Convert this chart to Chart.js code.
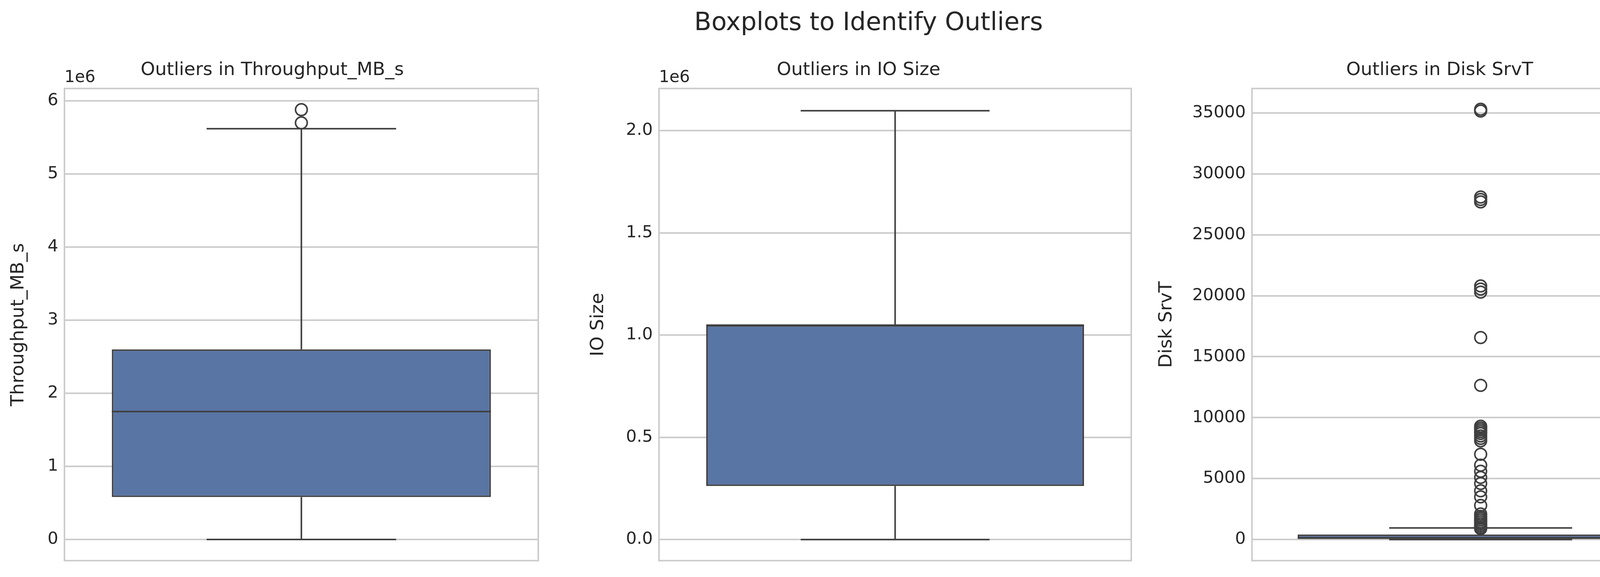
<!DOCTYPE html>
<html>
<head>
<meta charset="utf-8">
<script src="https://cdn.jsdelivr.net/npm/chart.js@4.4.1/dist/chart.umd.min.js"></script>
<style>
  body { margin:0; background:#fff; width:4447px; height:1476px; position:relative; overflow:hidden; font-family:"DejaVu Sans"; }
  #title { position:absolute; left:0; width:4447px; top:18px; text-align:center; font-size:64px; color:#262626; }
  canvas { position:absolute; }
</style>
</head>
<body>
<div id="title">Boxplots to Identify Outliers</div>
<canvas id="c1" width="1400" height="1360" style="left:16px;top:116px"></canvas>
<canvas id="c2" width="1420" height="1360" style="left:1500px;top:116px"></canvas>
<canvas id="c3" width="1440" height="1360" style="left:2955px;top:116px"></canvas>
<script>
// summary stats: [whiskerLow, q1, median, q3, whiskerHigh]
var titles = ['Outliers in Throughput_MB_s', 'Outliers in IO Size', 'Outliers in Disk SrvT'];
var ylabels = ['Throughput_MB_s', 'IO Size', 'Disk SrvT'];
var throughputStats = [0, 580000, 1750000, 2600000, 5620000];
var ioSizeStats = [0, 262144, 1048576, 1048576, 2097152];
var srvtStats = [0, 50, 150, 420, 950];
var throughputOutliers = [5700000, 5880000];
var ioSizeOutliers = [];
var srvtOutliers = [35300, 35150, 28100, 27900, 27700, 20800, 20550, 20300, 16570, 12650,
  9300, 9150, 9000, 8850, 8700, 8500, 8300, 8100, 7000, 6100, 5600, 5100, 4600, 4000, 3500, 2800,
  2100, 1900, 1750, 1600, 1450, 1300, 1150, 1000, 900];
var yRanges = [[-290000, 6170000], [-103000, 2206000], [-1730, 37000]];
var yTicks = [[0, 1000000, 2000000, 3000000, 4000000, 5000000, 6000000],
  [0, 500000, 1000000, 1500000, 2000000],
  [0, 5000, 10000, 15000, 20000, 25000, 30000, 35000]];
var offsetText = ['1e6', '1e6', ''];

var allStats = [throughputStats, ioSizeStats, srvtStats];
var allOutliers = [throughputOutliers, ioSizeOutliers, srvtOutliers];
var ink = '#3f3f3f';
var txt = '#262626';

var boxPlugin = {
  id: 'boxParts',
  afterDatasetsDraw: function(chart) {
    var s = chart.options.plugins.boxParts.stats;
    var y = chart.scales.y;
    var meta = chart.getDatasetMeta(0).data[0];
    var cx = meta.x, half = meta.width / 2;
    var ctx = chart.ctx;
    ctx.save();
    ctx.strokeStyle = ink;
    ctx.lineWidth = 4;
    ctx.beginPath();
    ctx.moveTo(cx, y.getPixelForValue(s[0])); ctx.lineTo(cx, y.getPixelForValue(s[1]));
    ctx.moveTo(cx, y.getPixelForValue(s[3])); ctx.lineTo(cx, y.getPixelForValue(s[4]));
    ctx.moveTo(cx - half / 2, y.getPixelForValue(s[0])); ctx.lineTo(cx + half / 2, y.getPixelForValue(s[0]));
    ctx.moveTo(cx - half / 2, y.getPixelForValue(s[4])); ctx.lineTo(cx + half / 2, y.getPixelForValue(s[4]));
    ctx.moveTo(cx - half, y.getPixelForValue(s[2])); ctx.lineTo(cx + half, y.getPixelForValue(s[2]));
    ctx.stroke();
    var a = chart.chartArea;
    ctx.strokeStyle = '#cccccc';
    ctx.lineWidth = 4;
    ctx.strokeRect(a.left, a.top, a.right - a.left, a.bottom - a.top);
    var off = chart.options.plugins.boxParts.offset;
    if (off) {
      ctx.fillStyle = txt;
      ctx.font = '42px "DejaVu Sans"';
      ctx.textBaseline = 'bottom';
      ctx.fillText(off, a.left, a.top - 6);
    }
    ctx.restore();
  }
};

var plotLeft = [165, 1687, 3205];
var plotRight = [1378, 2896, 4416];
var canvasLeft = [16, 1500, 2955];
var canvasWidth = [1400, 1420, 1440];
for (var i = 0; i < 3; i++) {
  var s = allStats[i];
  new Chart(document.getElementById('c' + (i + 1)), {
    type: 'bar',
    data: {
      labels: [''],
      datasets: [{
        data: [[s[1], s[3]]],
        backgroundColor: '#5975a4',
        borderColor: ink,
        borderWidth: 4,
        borderSkipped: false,
        barPercentage: 0.8,
        categoryPercentage: 1,
        order: 2
      }, {
        type: 'line',
        data: allOutliers[i].map(function(v) { return { x: '', y: v }; }),
        showLine: false,
        pointStyle: 'circle',
        pointRadius: 15,
        pointBorderWidth: 4,
        pointBorderColor: ink,
        pointBackgroundColor: 'rgba(0,0,0,0)',
        order: 1
      }]
    },
    options: {
      responsive: false,
      animation: false,
      devicePixelRatio: 1,
      layout: { padding: { left: 0, right: canvasWidth[i] - (plotRight[i] - canvasLeft[i]), top: 0, bottom: 32 } },
      plugins: {
        legend: { display: false },
        tooltip: { enabled: false },
        title: { display: true, text: titles[i], color: txt, font: { size: 47, family: 'DejaVu Sans', weight: 'normal' }, padding: { top: 36, bottom: 18 } },
        boxParts: { stats: s, offset: offsetText[i] }
      },
      scales: {
        x: { grid: { display: false }, ticks: { display: false }, border: { display: false } },
        y: {
          min: yRanges[i][0], max: yRanges[i][1],
          afterBuildTicks: (function(t) { return function(ax) { ax.ticks = t.map(function(v) { return { value: v }; }); }; })(yTicks[i]),
          afterFit: (function(w) { return function(ax) { ax.width = w; }; })(plotLeft[i] - canvasLeft[i]),
          ticks: {
            color: txt, font: { size: 43, family: 'DejaVu Sans' }, padding: 16,
            callback: (function(k) { return function(v) {
              if (k === 0) return String(v / 1e6);
              if (k === 1) return (v / 1e6).toFixed(1);
              return String(v);
            }; })(i)
          },
          grid: { color: '#cccccc', lineWidth: 4, drawTicks: false },
          border: { display: false },
          title: { display: true, text: ylabels[i], color: txt, font: { size: 47, family: 'DejaVu Sans' }, padding: 4 }
        }
      }
    },
    plugins: [boxPlugin]
  });
}
</script>
</body>
</html>
